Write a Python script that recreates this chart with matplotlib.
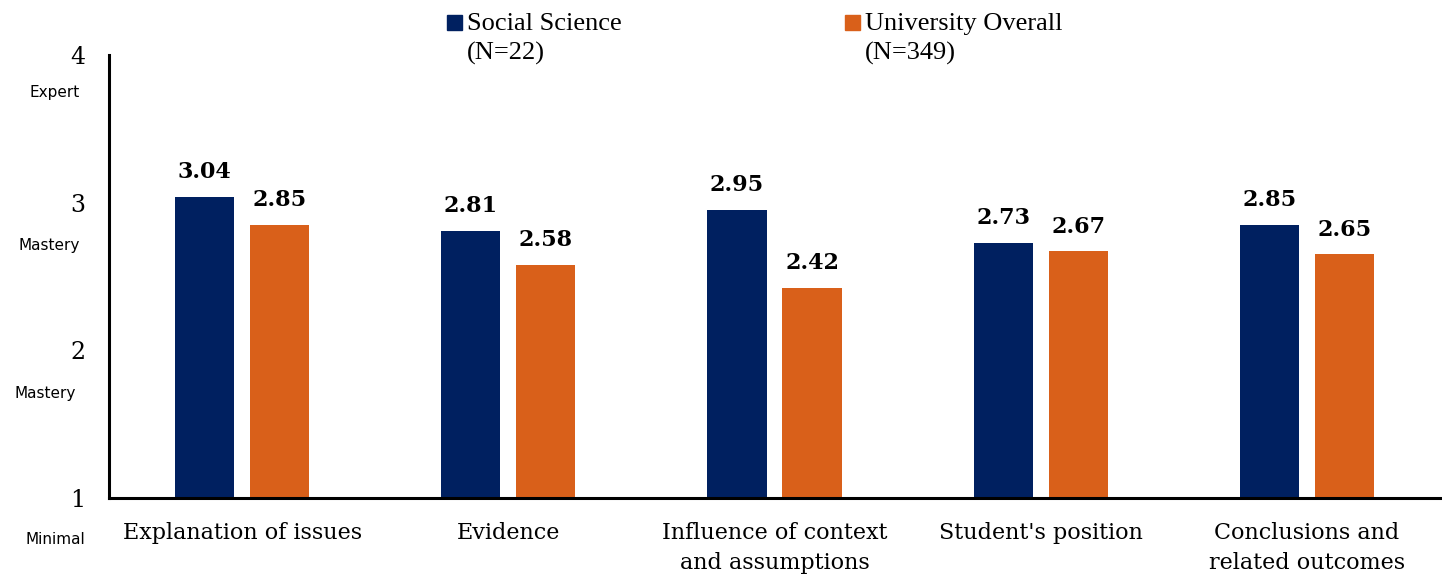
import matplotlib
matplotlib.use('Agg')
import matplotlib.pyplot as plt
import matplotlib.transforms as mtransforms
from matplotlib.patches import Rectangle
import numpy as np

categories = ['Explanation of issues', 'Evidence', 'Influence of context\nand assumptions',
              "Student's position", 'Conclusions and\nrelated outcomes']
social_science = [3.04, 2.81, 2.95, 2.73, 2.85]
university_overall = [2.85, 2.58, 2.42, 2.67, 2.65]
series_names = ['Social Science\n(N=22)', 'University Overall\n(N=349)']
level_labels = ['Expert', 'Mastery', 'Mastery', 'Minimal']
level_y = [3.75, 2.71, 1.71, 0.716]
level_x = [80, 80, 76, 85]   # right edge of each level label, px

navy = '#002060'
orange = '#D9601A'
serif = 'DejaVu Serif'

fig = plt.figure(figsize=(14.42, 5.8), dpi=100)
ax = fig.add_axes([0.0756, 0.1414, 0.923, 0.7636])

x = np.arange(len(categories))
w = 0.222
off = 0.141
b1 = ax.bar(x - off, np.array(social_science) - 1, w, bottom=1, color=navy)
b2 = ax.bar(x + off, np.array(university_overall) - 1, w, bottom=1, color=orange)

for bars, vals in [(b1, social_science), (b2, university_overall)]:
    for r, v in zip(bars, vals):
        ax.annotate(f'{v:.2f}', (r.get_x() + r.get_width() / 2, v),
                    xytext=(0, 10), textcoords='offset points',
                    ha='center', va='bottom', fontsize=16, fontweight='bold',
                    family=serif)

ax.set_xlim(-0.5, 4.5)
ax.set_ylim(1, 4)
ax.set_yticks([1, 2, 3, 4])
ax.set_yticklabels(['1', '2', '3', '4'], family=serif, fontsize=17)
ax.set_xticks(x)
ax.set_xticklabels(categories, family=serif, fontsize=16, linespacing=1.5)
ax.tick_params(axis='y', length=0, pad=17)
ax.tick_params(axis='x', length=0, pad=17)

for s in ['top', 'right']:
    ax.spines[s].set_visible(False)
for s in ['left', 'bottom']:
    ax.spines[s].set_linewidth(2.2)
    ax.spines[s].set_color('black')

# level names under each tick number
trans = mtransforms.blended_transform_factory(fig.transFigure, ax.transData)
for lab, yy, lx in zip(level_labels, level_y, level_x):
    ax.text(lx / 1442, yy, lab, transform=trans,
            ha='right', va='center', fontsize=11, family='DejaVu Sans', clip_on=False)

# legend drawn by hand so the square sits on the first line
leg_x = [447, 845]
for lx, name, col in zip(leg_x, series_names, [navy, orange]):
    fig.patches.append(Rectangle((lx / 1442, 1 - 30 / 580), 15 / 1442, 15 / 580,
                                 transform=fig.transFigure, color=col))
    for k, line in enumerate(name.split('\n')):
        fig.text((lx + 20) / 1442, 1 - (30 + 30 * k) / 580, line, ha='left',
                 va='baseline', fontsize=19, family='Liberation Serif')

fig.savefig('out.png', dpi=100)
